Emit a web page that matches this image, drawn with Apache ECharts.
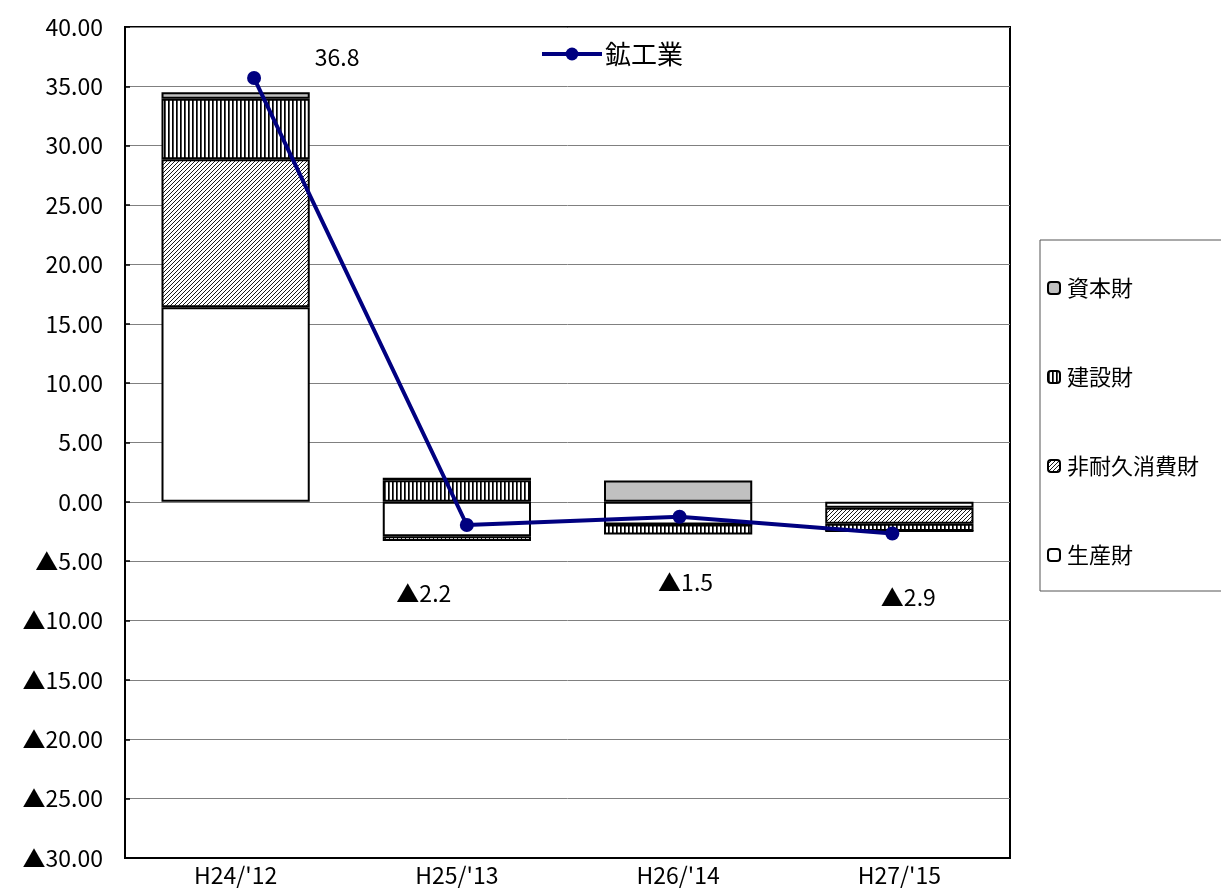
<!DOCTYPE html>
<html><head><meta charset="utf-8">
<script src="https://cdn.jsdelivr.net/npm/echarts@6/dist/echarts.min.js"></script>
<style>html,body{margin:0;padding:0;background:#fff}#c{width:1221px;height:895px}</style>
</head><body><div id="c"></div>
<script>
const categories = ["H24/'12", "H25/'13", "H26/'14", "H27/'15"];
const seisanzai = [16.4, -2.9, -1.9, -0.5];       // 生産財
const hitaikyu = [12.45, -0.4, 0, -1.35];         // 非耐久消費財
const kensetsu = [5.1, 1.83, -0.85, -0.6];        // 建設財
const shihon = [0.56, 0.2, 1.8, 0];               // 資本財
const kokogyo = [35.7, -1.95, -1.26, -2.66];      // 鉱工業
const kokogyoLabels = ['36.8', '▲2.2', '▲1.5', '▲2.9'];
const yMin = -30, yMax = 40, yStep = 5;

const FONT = '"Noto Sans CJK JP", "Noto Sans", sans-serif';

function makePattern(kind) {
  const c = document.createElement('canvas');
  const ctx = c.getContext('2d');
  c.width = 4; c.height = 4;
  ctx.fillStyle = '#fff'; ctx.fillRect(0, 0, 4, 4);
  if (kind === 'vstripe') {
    ctx.fillStyle = '#000'; ctx.fillRect(0, 0, 1.7, 4);
  } else {
    ctx.strokeStyle = '#000'; ctx.lineWidth = 0.9;
    ctx.beginPath();
    ctx.moveTo(-1, 5); ctx.lineTo(5, -1);
    ctx.moveTo(-1, 1); ctx.lineTo(1, -1);
    ctx.moveTo(3, 5); ctx.lineTo(5, 3);
    ctx.stroke();
  }
  return { image: c, repeat: 'repeat' };
}
const vstripe = makePattern('vstripe');
const diag = makePattern('diag');

const labelOffsets = [[83, -21], [-43, 68], [6, 65], [16, 64]];

function barSeries(name, data, color) {
  return {
    name, type: 'bar', stack: 'a', data, barWidth: '67%',
    xAxisIndex: 0, yAxisIndex: 0,
    itemStyle: { color, borderColor: '#000', borderWidth: 2 },
    emphasis: { disabled: true }
  };
}

const chart = echarts.init(document.getElementById('c'), null, { renderer: 'canvas' });
chart.setOption({
  animation: false,
  textStyle: { fontFamily: FONT },
  grid: [
    { left: 125, right: 211, top: 27, bottom: 37, show: true, borderColor: '#000', borderWidth: 2, containLabel: false },
    { left: 147.7, right: 222.3, top: 27, bottom: 37, containLabel: false }
  ],
  xAxis: [
    {
      type: 'category', gridIndex: 0, data: categories,
      axisLine: { onZero: false, lineStyle: { color: '#000', width: 2 } },
      axisTick: { show: false },
      axisLabel: { color: '#000', fontSize: 23, fontFamily: FONT, margin: 6 }
    },
    { type: 'category', gridIndex: 1, data: categories, show: false }
  ],
  yAxis: [
    {
      type: 'value', gridIndex: 0, min: yMin, max: yMax, interval: yStep,
      axisLine: { show: true, lineStyle: { color: '#000', width: 2 } },
      axisTick: { show: true, inside: true, length: 5, lineStyle: { color: '#000', width: 1.5 } },
      splitLine: { lineStyle: { color: '#808080', width: 1 } },
      axisLabel: {
        color: '#000', fontSize: 23, fontFamily: FONT, margin: 22,
        formatter: v => (v < 0 ? '▲' + Math.abs(v).toFixed(2) : v.toFixed(2))
      }
    },
    { type: 'value', gridIndex: 1, min: yMin, max: yMax, interval: yStep, show: false, splitLine: { show: false } }
  ],
  legend: [
    {
      data: ['鉱工業'], left: 540, top: 41, padding: 0,
      itemWidth: 60, itemHeight: 16, itemGap: 4,
      lineStyle: { width: 4, color: '#000080' },
      textStyle: { fontSize: 26, color: '#000', fontFamily: FONT, padding: [0, 0, 0, -2] }
    },
    {
      data: ['資本財', '建設財', '非耐久消費財', '生産財'],
      orient: 'vertical', left: 1040, top: 240,
      padding: [37, 60, 25, 7], itemGap: 67,
      itemWidth: 12, itemHeight: 12, itemStyle: { borderColor: '#000', borderWidth: 2 },
      borderColor: '#555', borderWidth: 1,
      textStyle: { fontSize: 22, color: '#000', fontFamily: FONT, lineHeight: 22, padding: [0, 0, 0, 2] }
    }
  ],
  series: [
    barSeries('生産財', seisanzai, '#ffffff'),
    barSeries('非耐久消費財', hitaikyu, diag),
    barSeries('建設財', kensetsu, vstripe),
    barSeries('資本財', shihon, '#c0c0c0'),
    {
      name: '鉱工業', type: 'line', xAxisIndex: 1, yAxisIndex: 1,
      data: kokogyo.map((v, i) => ({
        value: v,
        label: { offset: labelOffsets[i], formatter: kokogyoLabels[i] }
      })),
      symbol: 'circle', symbolSize: 14,
      lineStyle: { color: '#000080', width: 4 },
      itemStyle: { color: '#000080' },
      label: { show: true, position: 'inside', color: '#000', fontSize: 23, fontFamily: FONT },
      z: 5,
      emphasis: { disabled: true }
    }
  ]
});
</script>
</body></html>
